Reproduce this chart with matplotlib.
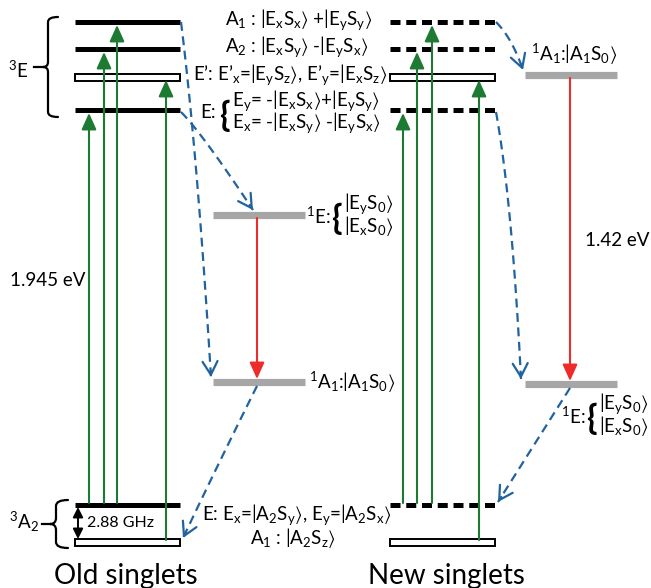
import matplotlib
matplotlib.use("Agg")
import matplotlib.pyplot as plt
from matplotlib.path import Path
from matplotlib.patches import PathPatch, Rectangle
import numpy as np

plt.rcParams['font.family'] = ['Lato', 'DejaVu Sans']
plt.rcParams['mathtext.fontset'] = 'custom'
plt.rcParams['mathtext.rm'] = 'Lato'
plt.rcParams['mathtext.it'] = 'Lato:italic'
plt.rcParams['mathtext.default'] = 'regular'
plt.rcParams['mathtext.fallback'] = 'stixsans'

# energy levels, in picture rows (top of the figure = 0)
triplet_names = ["A1", "A2", "E'", "E"]
triplet_y = [22, 49, 77, 110]
ground_names = ["E", "A1"]
ground_y = [505, 542]
old_singlet_names = ["1E", "1A1"]
old_singlet_y = [215, 382]
new_singlet_names = ["1A1", "1E"]
new_singlet_y = [75, 384]

# green excitation arrows: which level they start from and end on
pump_target = ["E", "A2", "A1", "E'"]
pump_start = ["E", "E", "E", "A1"]

GREEN = '#1d7a33'
RED = '#ee2b2b'
BLUE = '#21629f'
GRAY = '#a6a6a6'

fig = plt.figure(figsize=(6.51, 5.88), dpi=100)
ax = fig.add_axes([0, 0, 1, 1])
ax.set_xlim(0, 651)
ax.set_ylim(588, 0)
ax.axis('off')

tri = dict(zip(triplet_names, triplet_y))
gnd = dict(zip(ground_names, ground_y))
K = r"$\rangle$"


def solid_level(x0, x1, y):
    ax.plot([x0, x1], [y, y], color='k', lw=3.6, solid_capstyle='butt')


def dashed_level(x0, x1, y):
    ax.plot([x0, x1], [y, y], color='k', lw=3.6, linestyle=(0, (2.0, 1.15)),
            solid_capstyle='butt', dash_capstyle='butt')


def hollow_level(x0, x1, y):
    ax.add_patch(Rectangle((x0, y - 3.5), x1 - x0, 7, facecolor='white',
                           edgecolor='k', lw=1.4))


def gray_level(x0, x1, y):
    ax.plot([x0, x1], [y, y], color=GRAY, lw=5.2, solid_capstyle='butt')


def up_arrow(x, y0, y1, color):
    ax.annotate('', xy=(x, y1), xytext=(x, y0),
                arrowprops=dict(arrowstyle='-|>,head_length=1.0,head_width=0.45',
                                color=color, lw=1.5, shrinkA=0, shrinkB=0,
                                mutation_scale=10))


def blue_arrow(p0, pc, p1):
    t = np.linspace(0, 1, 80)
    p0, pc, p1 = np.array(p0), np.array(pc), np.array(p1)
    pts = ((1 - t)[:, None] ** 2) * p0 + (2 * (1 - t) * t)[:, None] * pc + (t[:, None] ** 2) * p1
    ax.plot(pts[:, 0], pts[:, 1], color=BLUE, lw=1.6, linestyle=(0, (4, 2.5)))
    d = p1 - pc
    d = d / np.hypot(*d)
    ax.annotate('', xy=p1, xytext=p1 - d * 6,
                arrowprops=dict(arrowstyle='->,head_length=0.8,head_width=0.45',
                                color=BLUE, lw=1.6, shrinkA=0, shrinkB=0,
                                mutation_scale=12))


def brace(x, y0, y1, w, tip=0, lw=1.6):
    # curly brace opening to the right, vertical stroke at x
    ym = (y0 + y1) / 2
    r = w / 2
    verts = [(x + w, y0), (x, y0), (x, y0 + r),
             (x, ym - r),
             (x, ym), (x - r, ym),
             (x, ym), (x, ym + r),
             (x, y1 - r),
             (x, y1), (x + w, y1)]
    codes = [Path.MOVETO, Path.CURVE3, Path.CURVE3,
             Path.LINETO,
             Path.CURVE3, Path.CURVE3,
             Path.CURVE3, Path.CURVE3,
             Path.LINETO,
             Path.CURVE3, Path.CURVE3]
    ax.add_patch(PathPatch(Path(verts, codes), facecolor='none', edgecolor='k',
                           lw=lw, capstyle='round'))
    if tip:
        ax.plot([x - r - tip, x - r], [ym, ym], color='k', lw=lw)


def glyph_brace(x, y):
    ax.text(x, y, "{", ha='left', va='center_baseline', fontsize=25,
            fontweight='bold', family='Lato')


# ---- old singlets (left) ----
OX0, OX1 = 75, 180
for name, y in zip(triplet_names, triplet_y):
    if name == "E'":
        hollow_level(OX0, OX1, y)
    else:
        solid_level(OX0, OX1, y)
solid_level(OX0, OX1, gnd["E"])
hollow_level(OX0, OX1, gnd["A1"])

for x, tgt, src in zip([89, 104, 117, 166], pump_target, pump_start):
    up_arrow(x, gnd[src] - 2, tri[tgt] + 3, GREEN)

SX0, SX1 = 213, 305
for y in old_singlet_y:
    gray_level(SX0, SX1, y)
up_arrow(257, old_singlet_y[0] + 3, old_singlet_y[1] - 3, RED)

blue_arrow((181, tri["A1"]), (197, 150), (211, old_singlet_y[1] - 5))
blue_arrow((181, tri["E"] + 2), (202, 133), (253, old_singlet_y[0] - 5))
blue_arrow((257, old_singlet_y[1] + 4), (220, 460), (183, gnd["A1"] - 4))

# ---- new singlets (right) ----
NX0, NX1 = 390, 495
for name, y in zip(triplet_names, triplet_y):
    if name == "E'":
        hollow_level(NX0, NX1, y)
    else:
        dashed_level(NX0, NX1, y)
dashed_level(NX0, NX1, gnd["E"])
hollow_level(NX0, NX1, gnd["A1"])

for x, tgt, src in zip([403, 417, 432, 479], pump_target, pump_start):
    up_arrow(x, gnd[src] - 2, tri[tgt] + 3, GREEN)

RX0, RX1 = 525, 617
for y in new_singlet_y:
    gray_level(RX0, RX1, y)
up_arrow(570, new_singlet_y[0] + 3, new_singlet_y[1] - 3, RED)

blue_arrow((496, tri["A1"]), (512, 38), (523, new_singlet_y[0] - 5))
blue_arrow((496, tri["E"] + 2), (512, 200), (521, new_singlet_y[1] - 5))
blue_arrow((570, new_singlet_y[1] + 4), (534, 445), (498, gnd["E"] - 3))

# ---- labels ----
fs = 13.5
ax.text(225, 20, r"A$_1$ : |E$_x$S$_x$" + K + r" +|E$_y$S$_y$" + K,
        ha='left', va='center', fontsize=fs)
ax.text(225, 47, r"A$_2$ : |E$_x$S$_y$" + K + r" -|E$_y$S$_x$" + K,
        ha='left', va='center', fontsize=fs)
ax.text(193, 75, r"E’: E’$_x$=|E$_y$S$_z$" + K + r", E’$_y$=|E$_x$S$_z$" + K,
        ha='left', va='center', fontsize=fs)
ax.text(200, 112, "E:", ha='left', va='center', fontsize=fs)
glyph_brace(219, 113)
ax.text(232, 101, r"E$_y$= -|E$_x$S$_x$" + K + r"+|E$_y$S$_y$" + K, ha='left', va='center', fontsize=fs)
ax.text(232, 123, r"E$_x$= -|E$_x$S$_y$" + K + r" -|E$_y$S$_x$" + K, ha='left', va='center', fontsize=fs)

ax.text(306, 216, r"$^1$E:", ha='left', va='center', fontsize=fs)
glyph_brace(331, 216)
ax.text(344, 204, r"|E$_y$S$_0$" + K, ha='left', va='center', fontsize=fs)
ax.text(344, 226, r"|E$_x$S$_0$" + K, ha='left', va='center', fontsize=fs)
ax.text(309, 382, r"$^1$A$_1$:|A$_1$S$_0$" + K, ha='left', va='center', fontsize=fs)

ax.text(531, 54, r"$^1$A$_1$:|A$_1$S$_0$" + K, ha='left', va='center', fontsize=fs)
ax.text(561, 416, r"$^1$E:", ha='left', va='center', fontsize=fs)
glyph_brace(586, 416)
ax.text(599, 404, r"|E$_y$S$_0$" + K, ha='left', va='center', fontsize=fs)
ax.text(599, 426, r"|E$_x$S$_0$" + K, ha='left', va='center', fontsize=fs)

ax.text(202, 515, r"E: E$_x$=|A$_2$S$_y$" + K + r", E$_y$=|A$_2$S$_x$" + K,
        ha='left', va='center', fontsize=fs)
ax.text(250, 538, r"A$_1$ : |A$_2$S$_z$" + K, ha='left', va='center', fontsize=fs)

ax.text(10, 280, "1.945 eV", ha='left', va='center', fontsize=13.5)
ax.text(585, 241, "1.42 eV", ha='left', va='center', fontsize=13.5)

# triplet braces
brace(48, 17, 117, 10, tip=9)
ax.text(8, 70, r"$^3$E", ha='left', va='center', fontsize=13.5)
brace(56, 500, 548, 12, tip=8)
ax.text(9, 522, r"$^3$A$_2$", ha='left', va='center', fontsize=13.5)

# zero-field splitting
ax.annotate('', xy=(78, gnd["E"] + 2), xytext=(78, gnd["A1"] - 3),
            arrowprops=dict(arrowstyle='<|-|>,head_length=0.6,head_width=0.3',
                            color='k', lw=1.4, shrinkA=0, shrinkB=0, mutation_scale=10))
ax.text(87, 523, "2.88 GHz", ha='left', va='center', fontsize=11.5)

ax.text(126, 576, "Old singlets", ha='center', va='center', fontsize=20)
ax.text(446, 576, "New singlets", ha='center', va='center', fontsize=20)

fig.savefig("out.png", dpi=100)
